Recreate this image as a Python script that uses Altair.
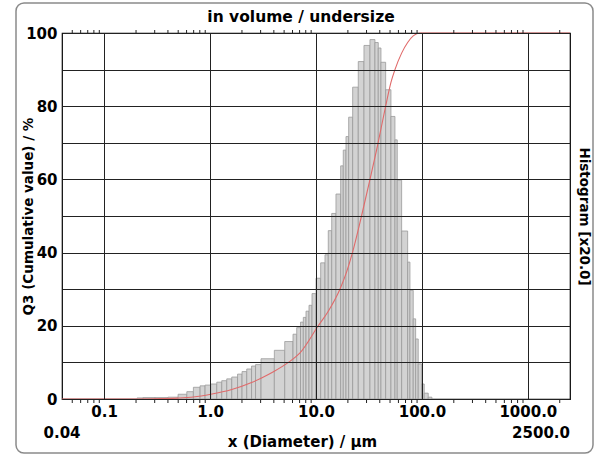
import altair as alt
import pandas as pd

# ---- data ----
bin_edges = [0.2048, 0.2333, 0.3028, 0.4015, 0.4990, 0.6031, 0.6959, 0.8047, 0.8971, 1.015,
             1.157, 1.289, 1.437, 1.602, 1.817, 2.004, 2.220, 2.464, 2.687, 3.028,
             4.043, 5.067, 6.067, 6.575, 7.140, 7.590, 8.048, 8.590, 9.168, 10.0,
             11.07, 12.16, 13.06, 14.07, 15.44, 17.10, 18.09, 19.19, 20.35, 22.19,
             25.07, 28.37, 32.32, 36.03, 38.70, 41.05, 45.45, 51.00, 55.63, 58.48,
             64.34, 73.32, 77.07, 82.78, 87.21, 92.28, 99.36, 105.1, 114.7, 124.2]
hist_values = [0.3, 0.4, 0.4, 0.5, 1.3, 2.0, 3.2, 3.6, 3.8, 4.1,
               4.6, 5.0, 5.5, 6.0, 6.8, 7.5, 8.2, 9.0, 9.4, 11.0,
               13.3, 15.7, 17.7, 19.5, 21.0, 22.3, 24.0, 25.6, 28.8, 33.0,
               37.2, 39.4, 46.0, 50.7, 56.0, 63.7, 68.0, 71.7, 77.0, 85.2,
               92.2, 96.6, 98.2, 97.4, 95.9, 92.0, 84.5, 77.2, 70.8, 59.8,
               45.9, 37.4, 29.7, 21.9, 16.4, 9.6, 4.1, 1.6, 0.5]
cum_x = [0.04, 0.2048, 0.337, 0.499, 0.696, 1.015, 1.602, 2.464, 3.028, 4.043, 5.49,
         7.06, 10.5, 13.06, 16.82, 19.5, 22.19, 26.9, 32.32, 37.3, 45.45, 51.0, 55.63,
         64.34, 73.32, 82.78, 95.6, 2500]
cum_y = [0, 0, 0.1, 0.25, 0.55, 1.3, 2.6, 4.5, 5.7, 7.6, 10.0,
         12.6, 20.0, 24.0, 30.0, 34.8, 40.2, 50.0, 60.0, 68.0, 80.0, 86.5, 90.0,
         94.5, 97.4, 99.2, 100.0, 100.0]
x_major = [0.1, 1, 10, 100, 1000]
x_minor = [0.05, 0.06, 0.07, 0.08, 0.09, 0.2, 0.3, 0.4, 0.5, 0.6, 0.7, 0.8, 0.9,
           2, 3, 4, 5, 6, 7, 8, 9, 20, 30, 40, 50, 60, 70, 80, 90,
           200, 300, 400, 500, 600, 700, 800, 900, 2000]
y_ticks = [0, 10, 20, 30, 40, 50, 60, 70, 80, 90, 100]
end_labels = ["0.04", "2500.0"]
end_values = [0.04, 2500]
chart_title = "in volume / undersize"

W, H = 508, 366
FONT = "DejaVu Sans"

hist_df = pd.DataFrame({"lo": bin_edges[:-1], "hi": bin_edges[1:], "h": hist_values})
cum_df = pd.DataFrame({"d": cum_x, "q": cum_y})
minor_df = pd.DataFrame({"v": x_minor})
frame_df = pd.DataFrame({"t": [chart_title]})

xscale = alt.Scale(type="log", domain=[0.04, 2500], nice=False)
yscale = alt.Scale(domain=[0, 100], nice=False)

frame = alt.Chart(frame_df).mark_rect(
    fillOpacity=0, stroke="#8a8a8a", strokeWidth=1.5, cornerRadius=8
).encode(x=alt.value(-46), x2=alt.value(531), y=alt.value(-30), y2=alt.value(420))

title_txt = alt.Chart(frame_df).mark_text(
    font=FONT, fontSize=15.5, fontWeight="bold", color="#000", align="center",
    baseline="alphabetic"
).encode(x=alt.value(239), y=alt.value(-11), text="t:N")

bars = alt.Chart(hist_df).mark_rect(
    fill="#d3d3d3", stroke="#9a9a9a", strokeWidth=0.8
).encode(
    x=alt.X("lo:Q", scale=xscale, axis=alt.Axis(
        values=x_major, format=".1f", grid=True, gridColor="#222", gridWidth=1,
        ticks=False, domain=False, labelFont=FONT, labelFontSize=15, labelFontWeight="bold",
        labelColor="#000", labelPadding=5, labelFlush=False, labelOverlap=False,
        title="x (Diameter) / µm", titleFont=FONT, titleFontSize=15, titleFontWeight="bold",
        titleColor="#000", titleX=240, titleY=47, titleBaseline="alphabetic",
        titleAnchor="middle", zindex=1)),
    x2="hi:Q",
    y=alt.Y("h:Q", scale=yscale, axis=alt.Axis(
        orient="right", labels=False, ticks=False, domain=False, grid=False,
        title="Histogram [x20.0]", titleFont=FONT, titleFontSize=13.5, titleFontWeight="bold",
        titleColor="#000", titlePadding=6)),
)

curve = alt.Chart(cum_df).mark_line(
    color="#e06a6a", strokeWidth=1.1, interpolate="monotone"
).encode(
    x=alt.X("d:Q", scale=xscale, axis=None),
    y=alt.Y("q:Q", scale=yscale, axis=alt.Axis(
        values=y_ticks, labelExpr="datum.value % 20 == 0 ? datum.label : ''",
        grid=True, gridColor="#222", gridWidth=1, ticks=False, domain=False,
        labelFont=FONT, labelFontSize=15, labelFontWeight="bold", labelColor="#000",
        labelPadding=5, labelFlush=False, labelOverlap=False,
        title="Q3 (Cumulative value) / %", titleFont=FONT, titleFontSize=13.5,
        titleFontWeight="bold", titleColor="#000", titleX=-27, titleY=183,
        titleAnchor="middle", zindex=1)),
)

ticks_top = alt.Chart(minor_df).mark_rule(color="#222", strokeWidth=1).encode(
    x=alt.X("v:Q", scale=xscale, axis=None), y=alt.value(0), y2=alt.value(-3))
ticks_bot = alt.Chart(minor_df).mark_rule(color="#222", strokeWidth=1).encode(
    x=alt.X("v:Q", scale=xscale, axis=None), y=alt.value(H), y2=alt.value(H + 4))

end_df = pd.DataFrame({"v": end_values, "t": end_labels})
txt_left = alt.Chart(end_df.iloc[[0]]).mark_text(
    font=FONT, fontSize=15, fontWeight="bold", color="#000", align="center", baseline="alphabetic"
).encode(x=alt.X("v:Q", scale=xscale, axis=None), y=alt.value(H + 39), text="t:N")
txt_right = alt.Chart(end_df.iloc[[1]]).mark_text(
    font=FONT, fontSize=15, fontWeight="bold", color="#000", align="right", baseline="alphabetic"
).encode(x=alt.X("v:Q", scale=xscale, axis=None), y=alt.value(H + 39), text="t:N")

chart = alt.layer(frame, title_txt, bars, curve, ticks_top, ticks_bot, txt_left, txt_right).resolve_axis(
    x="independent", y="independent"
).properties(
    width=W, height=H,
    autosize=alt.AutoSizeParams(type="none"),
    padding={"left": 62, "top": 33, "right": 596 - 62 - W, "bottom": 455 - 33 - H},
    background="white",
).configure_view(stroke="#000", strokeWidth=1.2)

chart.save("out.html", embed_options={"renderer": "svg", "actions": False})
